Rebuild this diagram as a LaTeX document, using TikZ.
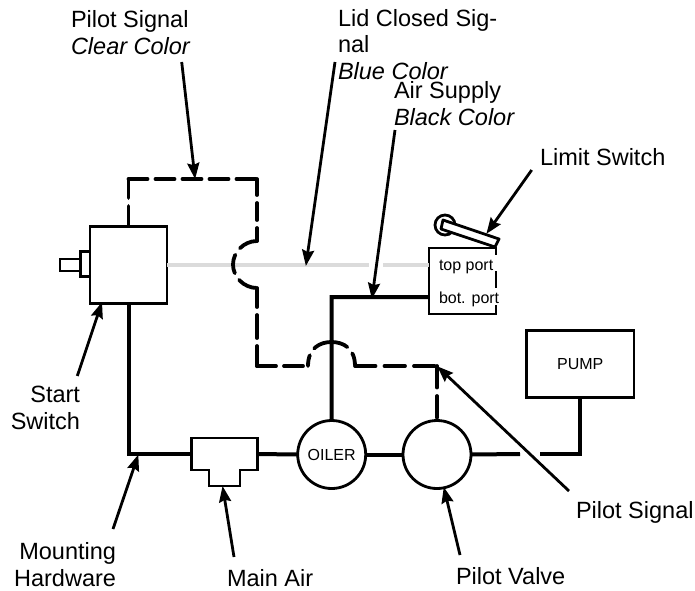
\documentclass[tikz,border=0pt]{standalone}
\usepackage{fontspec}
\setmainfont{Liberation Sans}
\usetikzlibrary{arrows.meta}
\tikzset{
  x=1pt,y=-1pt,
  box/.style={draw=black,line width=2.8pt,fill=white,inner sep=0pt,outer sep=0pt},
  roundel/.style={draw=black,line width=2.8pt,fill=white,circle,inner sep=0pt,outer sep=0pt,minimum size=68pt,font=\smalltxt},
  pipe/.style={draw=black,line width=4pt,miter limit=10},
  signal/.style={draw=black,line width=3.8pt,line cap=round,dash pattern=on 19pt off 8pt},
  lid/.style={draw=black!14,line width=3.8pt},
  leader/.style={draw=black,line width=2.8pt,-{Stealth[length=16pt,width=12pt,inset=2pt]},shorten >=-1pt},
  outline/.style={draw=black,line width=2.8pt,fill=white},
  lab/.style={anchor=base west,inner sep=0pt,outer sep=0pt,font=\bigtxt,align=left},
  labr/.style={anchor=base east,inner sep=0pt,outer sep=0pt,font=\bigtxt,align=right},
  small/.style={anchor=base west,inner sep=0pt,outer sep=0pt,font=\smalltxt},
}
\newcommand{\bigtxt}{\fontsize{23.5}{26.7}\selectfont}
\newcommand{\smalltxt}{\fontsize{16}{19}\selectfont}
\begin{document}
\begin{tikzpicture}
\useasboundingbox (0,0) rectangle (695,590);
% lid signal
\coordinate (lidmid) at (369,265);
\coordinate (lidmidb) at (383,265);
% nodes
\node[box,minimum width=77pt,minimum height=76.5pt] (start) at (128.5,265) {};
\node[box,minimum width=9.5pt,minimum height=25pt] (collar) at (85.3,264.2) {};
\node[box,minimum width=20.5pt,minimum height=12pt] (stem) at (70.3,265) {};
\node[roundel] (oiler) at (331.7,454.5) {OILER};
\node[roundel] (valve) at (437,454.5) {};
\node[box,minimum width=107.5pt,minimum height=67.5pt,font=\smalltxt] (pump) at (580.3,364) {PUMP};
\node[box,minimum width=67pt,minimum height=66pt] (limit) at (462.5,281) {};
\draw[outline] (191.7,438) -- (257.7,438) -- (257.7,470) -- (240,470) -- (240,486) -- (209,486) -- (209,470) -- (191.7,470) -- cycle;
\coordinate (airL) at (191.7,454);
\coordinate (airR) at (257.7,454);
\coordinate (airB) at (224.5,486);
% lid signal line
\draw[lid] (start.east) -- (lidmid);
\draw[lid] (lidmidb) -- (limit.west |- lidmidb);
% limit switch
\fill[white] (436,255) rectangle (499,271);
\fill[white] (436,288) rectangle (499,305);
\node[small] (top) at (439,270) {top port};
\node[small] (bot) at (439,303) {bot. port};
\node[draw=black,line width=2.8pt,circle,inner sep=0pt,minimum size=20pt] (roller) at (445,225) {};
\draw[outline,line join=round] (443,220) -- (499,239) -- (495,247) -- (441,229) -- cycle;
% pipes
\coordinate (cornerA) at (128.5,454);
\coordinate (cornerB) at (331.5,297);
\coordinate (cornerC) at (580,454);
\coordinate (gapL) at (520,454);
\coordinate (gapR) at (540,454);
\draw[pipe] (128.5,303) -- (cornerA) -- (airL);
\draw[pipe] (airR) -- (oiler.west);
\draw[pipe] (oiler.east) -- (valve.west);
\draw[pipe] (valve.east) -- (gapL);
\draw[pipe] (gapR) -- (cornerC) -- (pump.south -| cornerC);
% pilot signal
\coordinate (p1) at (128.5,179);
\coordinate (p2) at (257,179);
\coordinate (p3) at (257,241);
\coordinate (p4) at (257,288);
\coordinate (p5) at (257,366);
\coordinate (p6) at (308,366);
\coordinate (p7) at (355,366);
\coordinate (p8) at (437,366);
\coordinate (ptop) at (128.5,227);
\draw[signal] (p1) -- (ptop);
\draw[signal] (p1) -- (p2);
\draw[signal,dash pattern=on 16pt off 8pt on 17pt off 8pt on 16pt] (p2) -- (p3);
\draw[signal] (p3) .. controls (244,241) and (233,252) .. (233,264.5) .. controls (233,277) and (244,288) .. (p4);
\draw[signal,dash pattern=on 19pt off 8pt on 23pt off 8pt on 20pt] (p4) -- (p5);
\draw[signal] (p5) -- (p6);
\draw[signal,dash pattern=on 11pt off 8pt on 36pt off 8pt on 12pt] (p6) .. controls (308,348) and (320,342) .. (331.5,342) .. controls (343,342) and (355,348) .. (p7);
\draw[signal,dash pattern=on 20.5pt off 9pt] (p7) -- (p8);
\draw[signal,dash pattern=on 21.5pt off 8.5pt] (p8) -- (valve.north);
% air supply
\draw[pipe] (oiler.north) -- (cornerB) -- (limit.west |- cornerB);
% labels
\node[lab] (l1) at (71,54) {Pilot Signal\\\textit{Clear Color}};
\node[lab] (l2) at (338,79.5) {Lid Closed Sig-\\nal\\\textit{Blue Color}};
\node[lab] (l3) at (394,125) {Air Supply\\\textit{Black Color}};
\node[lab] (l4) at (540,165) {Limit Switch};
\node[labr] (l5) at (80,429) {Start\\Switch};
\node[labr] (l6) at (116,586) {Mounting\\Hardware};
\node[lab] (l7) at (227,586) {Main Air};
\node[lab] (l8) at (456,584) {Pilot Valve};
\node[lab] (l9) at (576,518) {Pilot Signal};
% leaders
\coordinate (a1) at (181.7,62);   \coordinate (b1) at (195,178);
\coordinate (a2) at (335,62);     \coordinate (b2) at (306,265);
\coordinate (a3) at (395,130);    \coordinate (b3) at (372,298);
\coordinate (a4) at (531.7,170);  \coordinate (b4) at (487,233);
\coordinate (a5) at (77.3,376);   \coordinate (b5) at (101.7,303);
\coordinate (a6) at (113,529);    \coordinate (b6) at (138,455.5);
\coordinate (a7) at (234,557);    \coordinate (b7) at (222.7,487);
\coordinate (a8) at (460,555);    \coordinate (b8) at (444,488);
\coordinate (a9) at (569,491);    \coordinate (b9) at (438,367);
\draw[leader] (a1) -- (b1);
\draw[leader] (a2) -- (b2);
\draw[leader] (a3) -- (b3);
\draw[leader] (a4) -- (b4);
\draw[leader] (a5) -- (b5);
\draw[leader] (a6) -- (b6);
\draw[leader] (a7) -- (b7);
\draw[leader] (a8) -- (b8);
\draw[leader] (a9) -- (b9);
\end{tikzpicture}
\end{document}
